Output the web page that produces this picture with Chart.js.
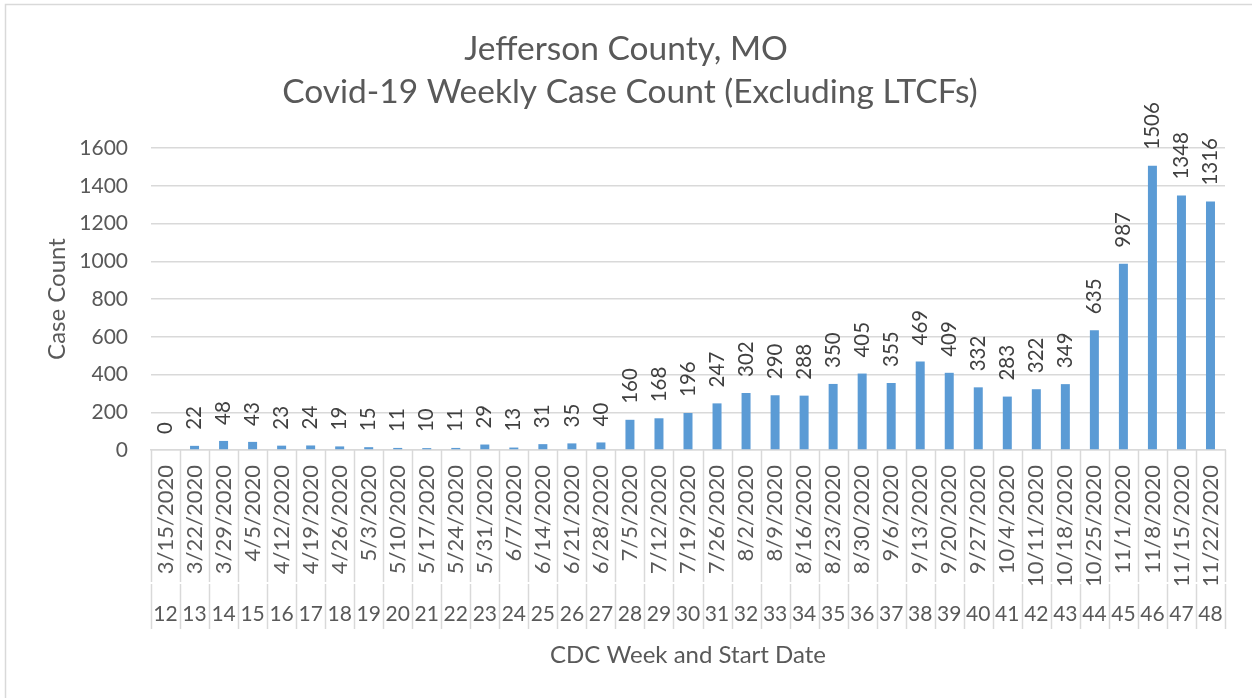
<!DOCTYPE html>
<html>
<head>
<meta charset="utf-8">
<script src="https://cdn.jsdelivr.net/npm/chart.js@4.4.1/dist/chart.umd.min.js"></script>
<style>
html,body{margin:0;padding:0;background:#fff;}
#wrap{position:relative;width:1252px;height:698px;}
canvas{display:block;}
</style>
</head>
<body>
<div id="wrap"><canvas id="c" width="1252" height="698"></canvas></div>
<script>
const weeks = [12,13,14,15,16,17,18,19,20,21,22,23,24,25,26,27,28,29,30,31,32,33,34,35,36,37,38,39,40,41,42,43,44,45,46,47,48];
const dates = ["3/15/2020","3/22/2020","3/29/2020","4/5/2020","4/12/2020","4/19/2020","4/26/2020","5/3/2020","5/10/2020","5/17/2020","5/24/2020","5/31/2020","6/7/2020","6/14/2020","6/21/2020","6/28/2020","7/5/2020","7/12/2020","7/19/2020","7/26/2020","8/2/2020","8/9/2020","8/16/2020","8/23/2020","8/30/2020","9/6/2020","9/13/2020","9/20/2020","9/27/2020","10/4/2020","10/11/2020","10/18/2020","10/25/2020","11/1/2020","11/8/2020","11/15/2020","11/22/2020"];
const caseCounts = [0,22,48,43,23,24,19,15,11,10,11,29,13,31,35,40,160,168,196,247,302,290,288,350,405,355,469,409,332,283,322,349,635,987,1506,1348,1316];
const yTicks = [0,200,400,600,800,1000,1200,1400,1600];
const titleLines = ["Jefferson County, MO","Covid-19 Weekly Case Count (Excluding LTCFs)"];
const yTitle = "Case Count";
const xTitle = "CDC Week and Start Date";

const FONT = "Lato, 'Noto Sans', sans-serif";
const TXT = "#595959";
const GRID = "#d9d9d9";

const decor = {
  id: 'decor',
  beforeDraw(chart) {
    const ctx = chart.ctx;
    ctx.save();
    ctx.fillStyle = '#fff';
    ctx.fillRect(0, 0, chart.width, chart.height);
    ctx.strokeStyle = GRID;
    ctx.lineWidth = 1.5;
    ctx.strokeRect(5.5, 4.5, 1262, 710);
    ctx.restore();
  },
  afterDraw(chart) {
    const ctx = chart.ctx;
    const xs = chart.scales.x, ys = chart.scales.y;
    const area = chart.chartArea;
    ctx.save();
    // title
    ctx.fillStyle = TXT;
    ctx.textAlign = 'center';
    ctx.textBaseline = 'alphabetic';
    ctx.font = "33.5px " + FONT;
    const cx = chart.width / 2;
    ctx.fillText(titleLines[0], cx, 60);
    ctx.fillText(titleLines[1], cx + 4, 103);
    // y title
    ctx.save();
    ctx.translate(57, (area.top + area.bottom) / 2);
    ctx.rotate(-Math.PI / 2);
    ctx.font = "24px " + FONT;
    ctx.textBaseline = 'middle';
    ctx.fillText(yTitle, 0, 0);
    ctx.restore();
    // x title
    ctx.font = "24px " + FONT;
    ctx.textBaseline = 'middle';
    ctx.fillText(xTitle, (area.left + area.right) / 2, 655);

    // category separators below axis
    const n = weeks.length;
    const step = (xs.getPixelForValue(1) - xs.getPixelForValue(0));
    ctx.strokeStyle = GRID;
    ctx.lineWidth = 1.5;
    for (let i = 0; i <= n; i++) {
      const x = Math.round(xs.getPixelForValue(i) - step / 2) + 0.5;
      ctx.beginPath();
      ctx.moveTo(x, area.bottom);
      ctx.lineTo(x, 582);
      ctx.moveTo(x, 584);
      ctx.lineTo(x, 629);
      ctx.stroke();
    }
    // date labels
    ctx.fillStyle = TXT;
    ctx.font = "22px " + FONT;
    for (let i = 0; i < n; i++) {
      const x = xs.getPixelForValue(i);
      ctx.save();
      ctx.translate(x, 465);
      ctx.rotate(-Math.PI / 2);
      ctx.textAlign = 'right';
      ctx.textBaseline = 'middle';
      ctx.fillText(dates[i], 0, 0);
      ctx.restore();
    }
    // week numbers
    ctx.font = "21px " + FONT;
    ctx.textAlign = 'center';
    ctx.textBaseline = 'middle';
    for (let i = 0; i < n; i++) {
      ctx.fillText(String(weeks[i]), xs.getPixelForValue(i), 614);
    }
    // data labels
    ctx.fillStyle = "#404040";
    ctx.font = "20.5px " + FONT;
    const meta = chart.getDatasetMeta(0);
    meta.data.forEach((bar, i) => {
      const y = ys.getPixelForValue(caseCounts[i]);
      ctx.save();
      ctx.translate(bar.x, y - 16);
      ctx.rotate(-Math.PI / 2);
      ctx.textAlign = 'left';
      ctx.textBaseline = 'middle';
      ctx.fillText(String(caseCounts[i]), 0, 0);
      ctx.restore();
    });
    ctx.restore();
  }
};

new Chart(document.getElementById('c'), {
  type: 'bar',
  data: {
    labels: weeks.map(String),
    datasets: [{
      data: caseCounts,
      backgroundColor: '#5b9bd5',
      borderWidth: 0,
      barPercentage: 0.62,
      categoryPercentage: 0.5
    }]
  },
  options: {
    responsive: false,
    animation: false,
    devicePixelRatio: 1,
    layout: { padding: { left: 0, right: 27, top: 148, bottom: 0 } },
    plugins: { legend: { display: false }, tooltip: { enabled: false }, title: { display: false } },
    scales: {
      x: {
        grid: { display: false, drawTicks: false },
        border: { display: true, color: GRID, width: 1.5 },
        ticks: { display: false },
        afterFit: (s) => { s.height = 248; }
      },
      y: {
        min: 0, max: 1600,
        afterBuildTicks: (s) => { s.ticks = yTicks.map(v => ({ value: v })); },
        grid: { color: GRID, lineWidth: 1.5, drawTicks: false },
        border: { display: false },
        ticks: { color: TXT, font: { family: FONT, size: 21 }, padding: 23, callback: (v) => String(v) },
        afterFit: (s) => { s.width = 151; }
      }
    }
  },
  plugins: [decor]
});
</script>
</body>
</html>
